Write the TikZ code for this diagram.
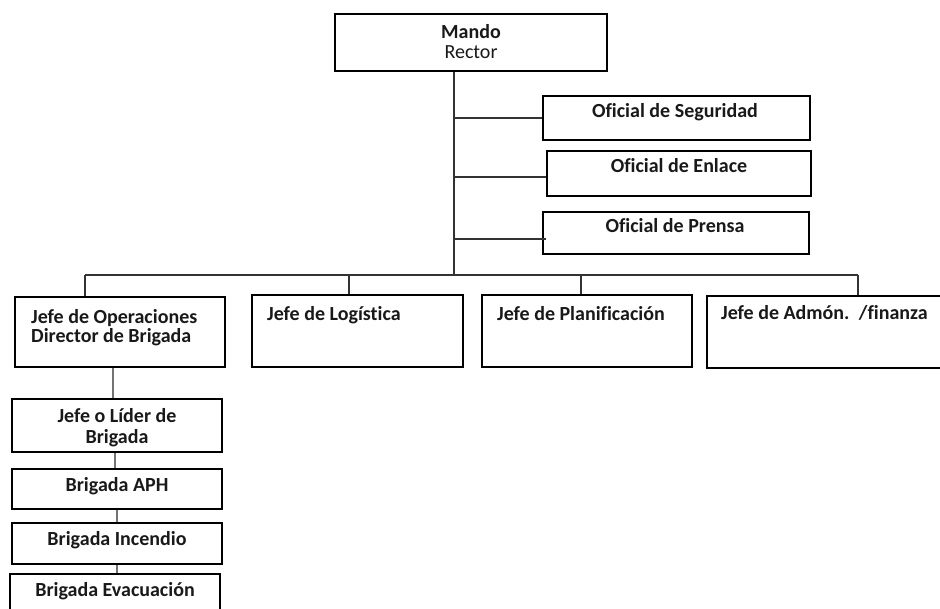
\documentclass[tikz,border=0pt]{standalone}
\usepackage{fontspec}
\setmainfont[Ligatures=NoCommon]{Carlito}
\usetikzlibrary{calc}
\tikzset{
  box/.style={draw=black, line width=2.2pt, rectangle, inner sep=0pt, fill=none},
  lbl/.style={inner sep=0pt, font=\fontsize{20}{19}\selectfont\bfseries, text=black!90},
  one/.style={lbl, text height=15pt, text depth=5pt},
  conn/.style={draw=black!80, line width=1.2pt},
  gconn/.style={draw=black!55, line width=1.5pt}
}
\begin{document}
\begin{tikzpicture}[x=1pt,y=-1pt]
\useasboundingbox (0,0) rectangle (940,609);
\clip (0,0) rectangle (940,609);
\fill[white] (0,0) rectangle (940,609);
% boxes
\node[box, minimum width=272pt, minimum height=57pt] (mando) at (471,42.5) {};
\node[box, minimum width=267pt, minimum height=44pt] (seg) at (676.5,118) {};
\node[box, minimum width=264pt, minimum height=45pt] (enl) at (679,173.5) {};
\node[box, minimum width=266pt, minimum height=42pt] (pren) at (676,233) {};
\node[box, minimum width=210pt, minimum height=70pt] (ops) at (120,332) {};
\node[box, minimum width=211pt, minimum height=72pt] (log) at (357.5,331) {};
\node[box, minimum width=210pt, minimum height=72pt] (plan) at (587,331) {};
\node[box, minimum width=253pt, minimum height=72pt] (adm) at (833.5,332) {};
\node[box, minimum width=210pt, minimum height=53pt] (lider) at (117,425.5) {};
\node[box, minimum width=210pt, minimum height=40pt] (aph) at (117,489) {};
\node[box, minimum width=210pt, minimum height=41pt] (inc) at (117,543.5) {};
\node[box, minimum width=210pt, minimum height=56pt] (evac) at (115,602) {};
% texts
\node[lbl, align=center, font=\fontsize{20}{20}\selectfont\bfseries] (tmando) at (471,42) {Mando\\\mdseries Rector};
\node[one] (tseg) at (675,113) {Oficial de Seguridad};
\node[one] (tenl) at (679,168) {Oficial de Enlace};
\node[one] (tpren) at (675,228) {Oficial de Prensa};
\node[lbl, align=left, anchor=north west] (tops) at (31,309) {Jefe de Operaciones\\Director de Brigada};
\node[lbl, anchor=north west] (tlog) at (267,306) {Jefe de Log\'{\i}stica};
\node[lbl, anchor=north west] (tplan) at (497,306) {Jefe de Planificaci\'on};
\node[lbl, anchor=north west] (tadm) at (721,305) {Jefe de Adm\'on. \,/finanza};
\node[lbl, align=center, font=\fontsize{20}{21}\selectfont\bfseries] (tlider) at (117,427.7) {Jefe o L\'{\i}der de\\Brigada};
\node[one] (taph) at (117,486) {Brigada APH};
\node[one] (tinc) at (117,540) {Brigada Incendio};
\node[one] (tevac) at (115,591) {Brigada Evacuaci\'on};
% connectors
\coordinate (bus) at (454,275);
\coordinate (bL) at (85,275);
\coordinate (bR) at (858,275);
\coordinate (d2) at (349,275);
\coordinate (d3) at (581,275);
\draw[conn] (mando.south -| bus) -- (bus);
\draw[conn] (seg.west -| bus) -- (seg.west);
\draw[conn] ([yshift=-3.5pt]enl.west -| bus) -- ([yshift=-3.5pt]enl.west);
\draw[conn] ([yshift=-6pt]pren.west -| bus) -- ([yshift=-6pt,xshift=4pt]pren.west);
\draw[conn] (bL) -- (bR);
\draw[conn] (bL) -- (bL |- ops.north);
\draw[conn] (d2) -- (d2 |- log.north);
\draw[conn] (d3) -- (d3 |- plan.north);
\draw[conn] (bR) -- (bR |- adm.north);
\draw[gconn] ([xshift=-7pt]ops.south) -- ([xshift=-7pt]ops.south |- lider.north);
\draw[gconn] ([xshift=-2pt]lider.south) -- ([xshift=-2pt]lider.south |- aph.north);
\draw[gconn] (aph.south) -- (aph.south |- inc.north);
\draw[gconn] (inc.south) -- (inc.south |- evac.north);
\end{tikzpicture}
\end{document}
